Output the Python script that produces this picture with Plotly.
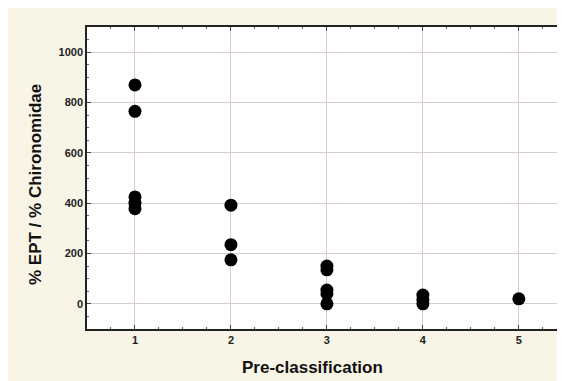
import plotly.graph_objects as go

pre_class = [1, 1, 1, 1, 1, 2, 2, 2, 3, 3, 3, 3, 3, 4, 4, 4, 5]
ept_ratio = [870, 765, 425, 400, 378, 392, 235, 175, 150, 135, 55, 40, 0, 35, 15, 0, 20]

x_ticks = [1, 2, 3, 4, 5]
y_ticks = [0, 200, 400, 600, 800, 1000]
x_title = "Pre-classification"
y_title = "% EPT / % Chironomidae"

fig = go.Figure()
fig.add_trace(go.Scatter(
    x=pre_class, y=ept_ratio, mode="markers",
    marker=dict(color="black", size=13, line=dict(width=0)),
    showlegend=False,
))

axis_common = dict(
    showline=True, linecolor="#222", linewidth=1.5, mirror="allticks",
    ticks="inside", ticklen=4, tickcolor="#444",
    showgrid=True, gridcolor="#d8cccc", gridwidth=1,
    zeroline=False, automargin=False,
    tickfont=dict(family="Liberation Sans Narrow, Liberation Sans, Arial", size=11, color="#222", weight="bold"),
)

fig.update_xaxes(
    range=[0.5, 5.46], tickvals=x_ticks,
    minor=dict(dtick=0.25, ticks="inside", ticklen=2, tickcolor="#666", showgrid=False),
    **axis_common,
)
fig.update_yaxes(
    range=[-100, 1100], tickvals=y_ticks,
    minor=dict(dtick=50, ticks="inside", ticklen=2, tickcolor="#666", showgrid=False),
    **axis_common,
)

# page body has an 8px default margin; compensate
OFF = 8
W, H = 565 - OFF, 381 - OFF
ml, mr, mt, mb = 87 - OFF, 2, 27 - OFF, 52
pw, ph = W - ml - mr, H - mt - mb

fig.update_layout(
    width=W, height=H,
    margin=dict(l=ml, r=mr, t=mt, b=mb),
    paper_bgcolor="#f8f4e6",
    plot_bgcolor="white",
    annotations=[
        dict(text=x_title, xref="paper", yref="paper",
             x=(312 - OFF - ml) / pw, y=-(368 - OFF - (mt + ph)) / ph,
             showarrow=False, xanchor="center", yanchor="middle",
             font=dict(family="Liberation Sans, Arial", size=17, color="#111", weight="bold")),
        dict(text=y_title, xref="paper", yref="paper",
             x=-(ml - (35 - OFF)) / pw, y=1 - (185 - OFF - mt) / ph, textangle=-90,
             showarrow=False, xanchor="center", yanchor="middle",
             font=dict(family="Liberation Sans, Arial", size=17, color="#111", weight="bold")),
    ],
)

fig.write_html("out.html")
